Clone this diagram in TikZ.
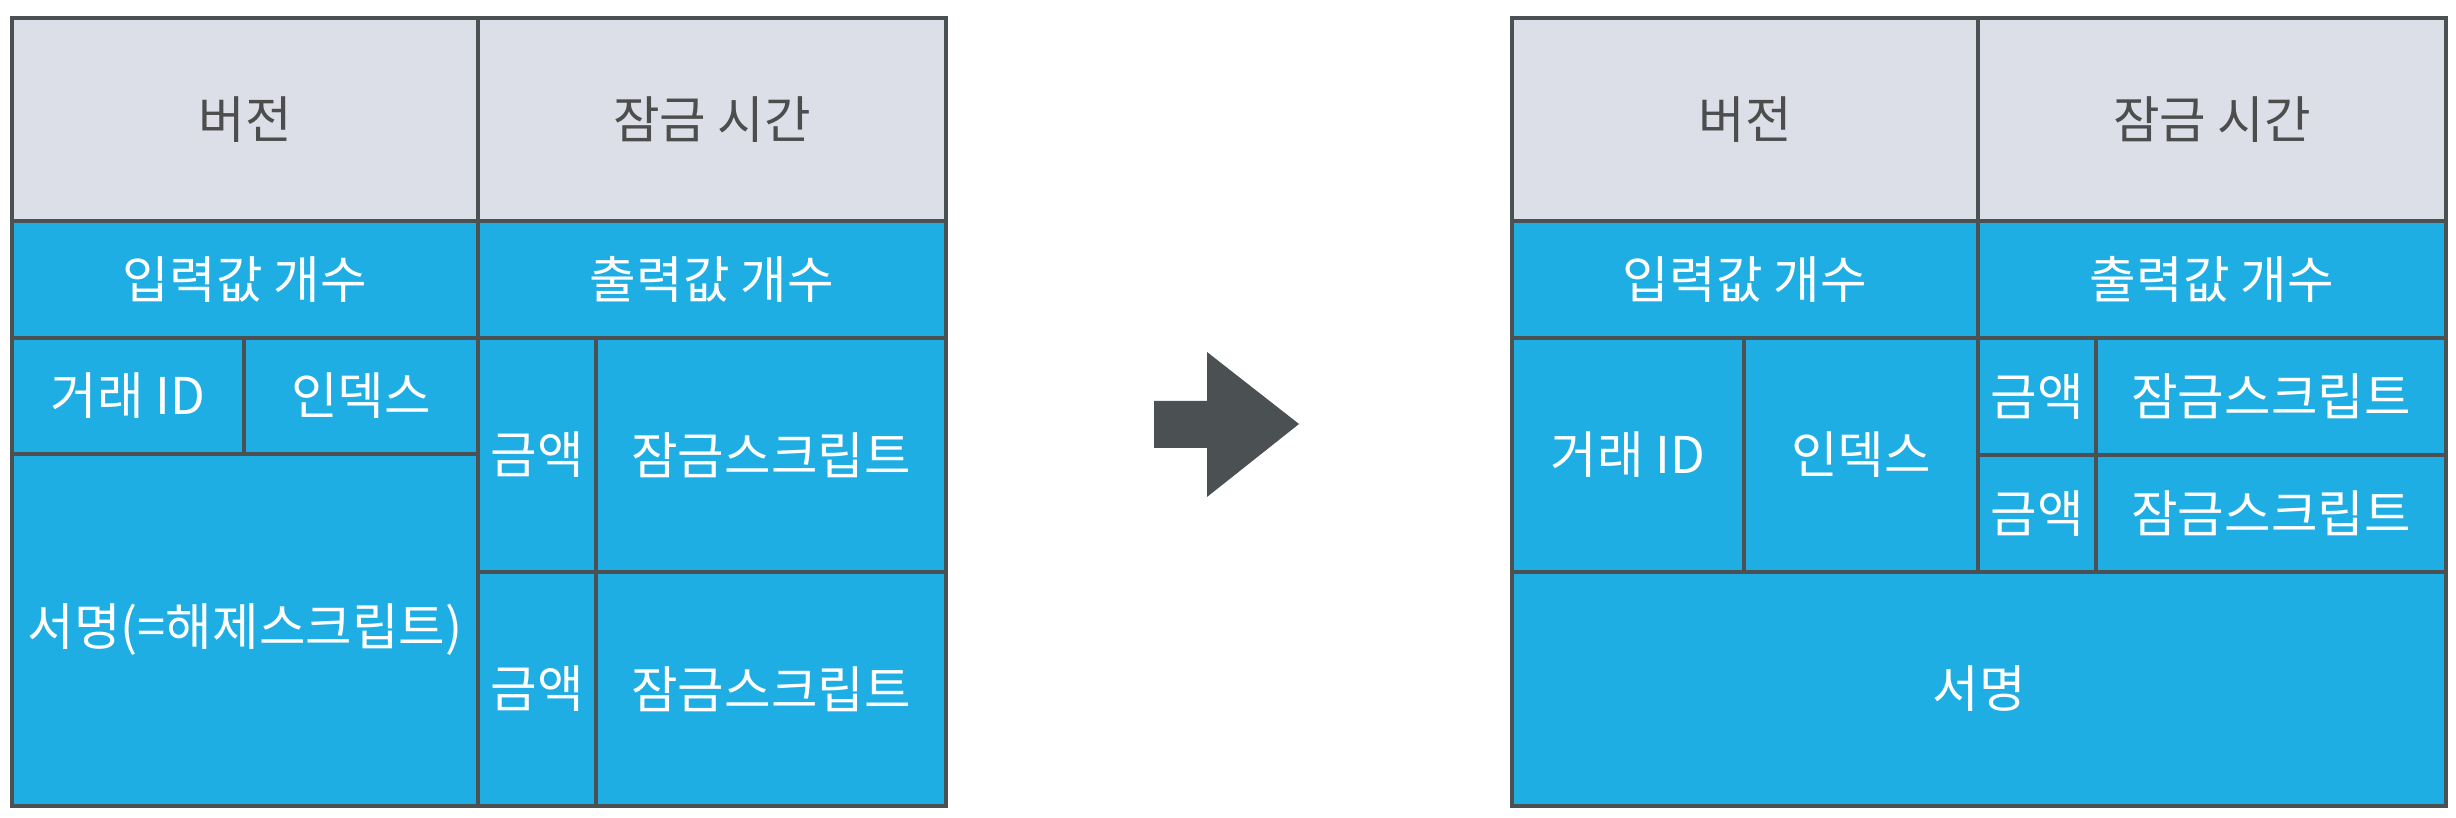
\documentclass[tikz,border=0pt]{standalone}
\usepackage{fontspec}
\setmainfont{Noto Sans CJK KR}
\definecolor{cellgray}{HTML}{DCDFE7}
\definecolor{cellblue}{HTML}{1FAEE3}
\definecolor{edgegray}{HTML}{4B5053}
\definecolor{textgray}{HTML}{4D4D4D}
\begin{document}
\begin{tikzpicture}[
  cell/.style={draw=edgegray, line width=0.04cm, inner sep=0pt, anchor=north west, font=\fontsize{14.4}{17}\selectfont},
  head/.style={cell, fill=cellgray, text=textgray},
  field/.style={cell, fill=cellblue, text=white}]
\useasboundingbox (0,0) rectangle (24.56,-8.18);
% top two rows, same in both tables
\foreach \o/\t in {0/L,15/R}{
\node[head, minimum width=4.66cm, minimum height=2.03cm] (ver\t) at (\o+0.10,-0.16) {버전};
\node[head, minimum width=4.68cm, minimum height=2.03cm] (lock\t) at (\o+4.76,-0.16) {잠금 시간};
\node[field, minimum width=4.66cm, minimum height=1.17cm] (nin\t) at (\o+0.10,-2.19) {입력값 개수};
\node[field, minimum width=4.68cm, minimum height=1.17cm] (nout\t) at (\o+4.76,-2.19) {출력값 개수};
}
% left table
\node[field, minimum width=2.32cm, minimum height=1.16cm] (txidL) at (0.10,-3.36) {거래 ID};
\node[field, minimum width=2.34cm, minimum height=1.16cm] (idxL) at (2.42,-3.36) {인덱스};
\node[field, minimum width=4.66cm, minimum height=3.52cm] (sigL) at (0.10,-4.52) {서명(=해제스크립트)};
\node[field, minimum width=1.18cm, minimum height=2.34cm] (amtLa) at (4.76,-3.36) {금액};
\node[field, minimum width=3.50cm, minimum height=2.34cm] (scrLa) at (5.94,-3.36) {잠금스크립트};
\node[field, minimum width=1.18cm, minimum height=2.34cm] (amtLb) at (4.76,-5.70) {금액};
\node[field, minimum width=3.50cm, minimum height=2.34cm] (scrLb) at (5.94,-5.70) {잠금스크립트};
% right table
\node[field, minimum width=2.32cm, minimum height=2.34cm] (txidR) at (15.10,-3.36) {거래 ID};
\node[field, minimum width=2.34cm, minimum height=2.34cm] (idxR) at (17.42,-3.36) {인덱스};
\node[field, minimum width=1.18cm, minimum height=1.17cm] (amtRa) at (19.76,-3.36) {금액};
\node[field, minimum width=3.50cm, minimum height=1.17cm] (scrRa) at (20.94,-3.36) {잠금스크립트};
\node[field, minimum width=1.18cm, minimum height=1.17cm] (amtRb) at (19.76,-4.53) {금액};
\node[field, minimum width=3.50cm, minimum height=1.17cm] (scrRb) at (20.94,-4.53) {잠금스크립트};
\node[field, minimum width=9.34cm, minimum height=2.34cm] (sigR) at (15.10,-5.70) {서명};
% block arrow
\fill[edgegray] (11.54,-4.01) -- (12.07,-4.01) -- (12.07,-3.52) -- (12.99,-4.24) -- (12.07,-4.97) -- (12.07,-4.48) -- (11.54,-4.48) -- cycle;
\end{tikzpicture}
\end{document}
